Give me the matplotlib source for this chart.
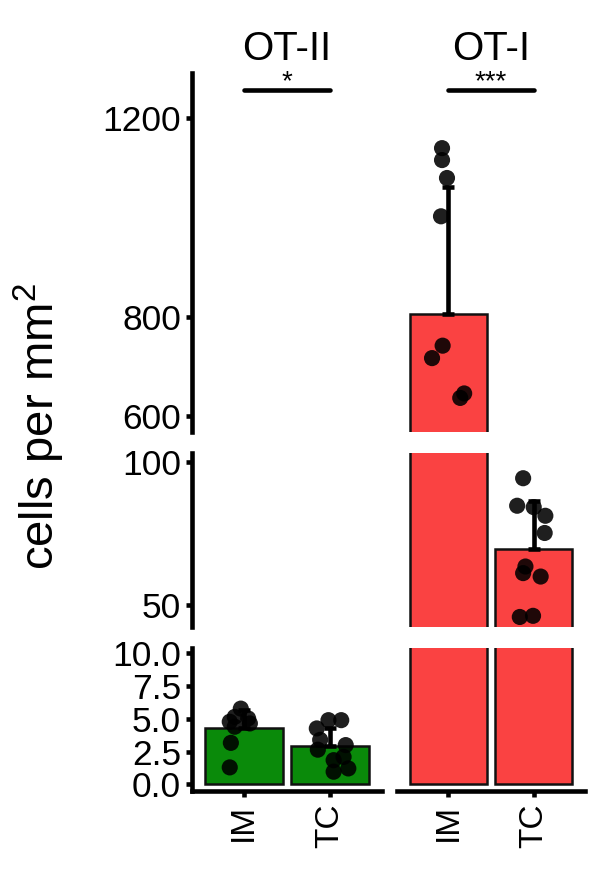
import matplotlib
matplotlib.use("Agg")
import matplotlib.pyplot as plt
import matplotlib.transforms as mtransforms
import numpy as np

plt.rcParams['font.family'] = ['Liberation Sans', 'DejaVu Sans']
plt.rcParams['mathtext.default'] = 'regular'

# ---------------- data ----------------
panels = ["OT-II", "OT-I"]
categories = ["IM", "TC"]
significance = ["*", "***"]

means_ot2 = [4.3, 2.92]
sds_ot2 = [1.4, 1.4]
means_ot1 = [806, 69.7]
sds_ot1 = [255, 16.8]

pts_ot2_im = [5.78, 5.15, 5.03, 4.78, 4.4, 4.65, 3.17, 1.3]
jit_ot2_im = [-0.035, -0.105, 0.05, -0.163, -0.105, 0.07, -0.15, -0.163]
pts_ot2_tc = [4.27, 4.9, 4.9, 2.65, 3.4, 3.0, 1.85, 2.1, 0.97, 1.22]
jit_ot2_tc = [-0.155, -0.02, 0.128, -0.143, -0.116, 0.18, 0.04, 0.155, 0.04, 0.21]
pts_ot1_im = [1139, 1115, 1079, 1002, 742, 717, 637, 646]
jit_ot1_im = [-0.073, -0.073, -0.015, -0.085, -0.066, -0.19, 0.14, 0.186]
pts_ot1_tc = [94.3, 84.7, 84.2, 81.2, 75.2, 63.5, 61.2, 60.0, 45.9, 46.3]
jit_ot1_tc = [-0.124, -0.194, 0.0, 0.136, 0.128, -0.097, -0.124, 0.081, -0.163, -0.008]

bar_colors = ["#0A8A0A", "#FA4242"]

# broken y-axis segments (top, middle, bottom)
seg_lims = [(568.5, 1290), (42.4, 103.1), (-0.5, 10.4)]
seg_ticks = [[600, 800, 1200], [50, 100], [0, 2.5, 5, 7.5, 10]]
seg_ticklabels = [["600", "800", "1200"], ["50", "100"],
                  ["0.0", "2.5", "5.0", "7.5", "10.0"]]
sig_y = 1256

panel_means = [means_ot2, means_ot1]
panel_sds = [sds_ot2, sds_ot1]
panel_pts = [[pts_ot2_im, pts_ot2_tc], [pts_ot1_im, pts_ot1_tc]]
panel_jit = [[jit_ot2_im, jit_ot2_tc], [jit_ot1_im, jit_ot1_tc]]

# ---------------- layout (pixels) ----------------
W, H = 600, 869
fig = plt.figure(figsize=(W / 100, H / 100), dpi=100)
panel_x = [(192, 382), (397, 585)]
seg_y = [(73, 432), (453, 627), (648, 791)]

LW = 3.3
ytick_fs = 25.5
xtick_fs = 24

x = np.arange(1, len(categories) + 1)

for p, (x0, x1) in enumerate(panel_x):
    for s, (y0, y1) in enumerate(seg_y):
        ax = fig.add_axes([x0 / W, 1 - y1 / H, (x1 - x0) / W, (y1 - y0) / H])
        ax.set_xlim(0.4, 2.6)
        ax.set_ylim(*seg_lims[s])
        for sp in ax.spines.values():
            sp.set_visible(False)
        ax.set_facecolor('none')
        # bars
        ax.bar(x, panel_means[p], width=0.9, color=bar_colors[p],
               edgecolor='#111111', linewidth=1.8, zorder=1)
        # error bars (upper only)
        ax.errorbar(x, panel_means[p],
                    yerr=[np.zeros(len(x)), panel_sds[p]],
                    fmt='none', ecolor='black', elinewidth=LW,
                    capsize=4.3, capthick=LW, zorder=2)
        # points
        for i in range(len(categories)):
            ax.scatter(x[i] + np.array(panel_jit[p][i]), panel_pts[p][i],
                       s=135, color='black', alpha=0.88,
                       edgecolors='none', zorder=3)
        # axes
        if p == 0:
            ax.spines['left'].set_visible(True)
            ax.spines['left'].set_linewidth(LW)
            ax.set_yticks(seg_ticks[s])
            ax.set_yticklabels(seg_ticklabels[s], fontsize=ytick_fs)
            ax.tick_params(axis='y', length=4, width=LW, pad=4)
        else:
            ax.set_yticks([])
        if s == 2:
            ax.spines['bottom'].set_visible(True)
            ax.spines['bottom'].set_linewidth(LW)
            ax.set_xticks(x)
            ax.set_xticklabels(categories, fontsize=xtick_fs, rotation=90)
            ax.tick_params(axis='x', length=4, width=LW, pad=5)
        else:
            ax.set_xticks([])
        if s == 0:
            ax.plot([1, 2], [sig_y, sig_y], color='black', lw=LW,
                    solid_capstyle='round', clip_on=False)
            ax.text(1.5, sig_y + 2, significance[p], ha='center',
                    va='baseline', fontsize=20, clip_on=False)
            tr = mtransforms.blended_transform_factory(ax.transData,
                                                       fig.transFigure)
            ax.text(1.5, 1 - 60 / H, panels[p], transform=tr,
                    ha='center', va='baseline', fontsize=29, clip_on=False)

fig.text(39 / W, 1 - 427 / H, 'cells per mm$^2$', rotation=90,
         ha='center', va='center', fontsize=34)

fig.savefig('out.png', dpi=100)
